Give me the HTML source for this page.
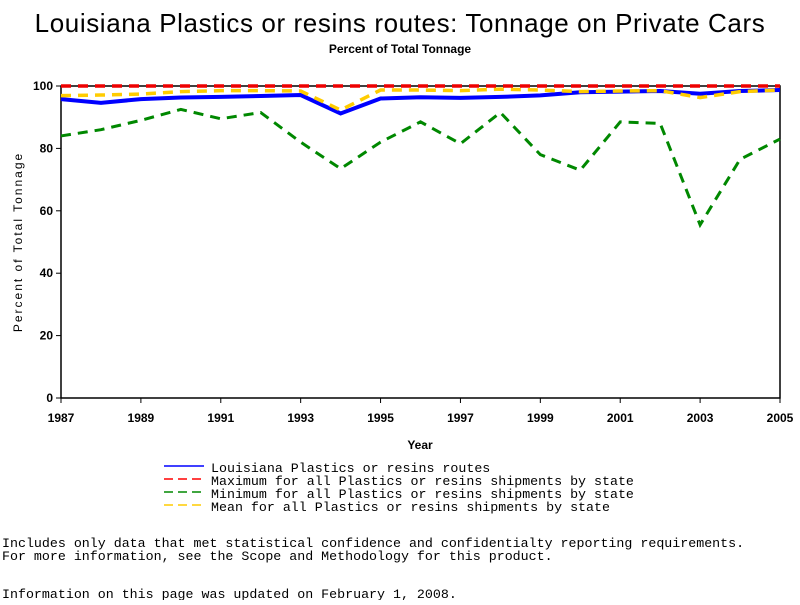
<!DOCTYPE html>
<html><head><meta charset="utf-8"><style>
body{margin:0;background:#fff;width:800px;height:600px;overflow:hidden}
svg text{font-family:"Liberation Sans",sans-serif}
svg text.mono{font-family:"Liberation Mono",monospace}
</style></head><body>
<svg width="800" height="600" id="svg">
<text x="400" y="32" font-size="26" letter-spacing="0.6" text-anchor="middle">Louisiana Plastics or resins routes: Tonnage on Private Cars</text>
<text x="400" y="53" font-size="12" font-weight="bold" text-anchor="middle">Percent of Total Tonnage</text>
<text x="22" y="242" font-size="12" text-anchor="middle" letter-spacing="2" transform="rotate(-90 22 242)">Percent of Total Tonnage</text>
<text x="420" y="449" font-size="12" font-weight="bold" text-anchor="middle">Year</text>
<g id="axes"></g>
<g id="series"></g>
<g font-size="13.3">
<line x1="164" y1="466" x2="204" y2="466" stroke="#00f" stroke-width="1.5"/>
<text class="mono" x="211" y="472">Louisiana Plastics or resins routes</text>
<line x1="164" y1="479" x2="204" y2="479" stroke="#f00" stroke-width="1.5" stroke-dasharray="9,5"/>
<text class="mono" x="211" y="485">Maximum for all Plastics or resins shipments by state</text>
<line x1="164" y1="492" x2="204" y2="492" stroke="#080" stroke-width="1.5" stroke-dasharray="9,5"/>
<text class="mono" x="211" y="498">Minimum for all Plastics or resins shipments by state</text>
<line x1="164" y1="505" x2="204" y2="505" stroke="#fc0" stroke-width="1.5" stroke-dasharray="9,5"/>
<text class="mono" x="211" y="511">Mean for all Plastics or resins shipments by state</text>
</g>
<g font-size="13.3">
<text class="mono" x="2" y="547">Includes only data that met statistical confidence and confidentialty reporting requirements.</text>
<text class="mono" x="2" y="560">For more information, see the Scope and Methodology for this product.</text>
<text class="mono" x="2" y="598">Information on this page was updated on February 1, 2008.</text>
</g>
</svg>
<script>
const years=[1987,1988,1989,1990,1991,1992,1993,1994,1995,1996,1997,1998,1999,2000,2001,2002,2003,2004,2005];
const louisiana=[95.8,94.6,95.8,96.3,96.5,96.8,97.1,91.2,96.0,96.4,96.2,96.5,97.0,98.0,98.2,98.4,97.5,98.4,98.7];
const maxVals=[100,100,100,100,100,100,100,100,100,100,100,100,100,100,100,100,100,100,100];
const minVals=[84,86,89,92.5,89.5,91.5,82,73.5,82,88.5,81.5,91.5,78,73,88.5,88,55.5,76.5,83];
const meanVals=[96.9,97.1,97.4,98.2,98.5,98.5,98.4,92.3,98.7,98.7,98.5,99.0,98.7,98.2,98.4,98.5,96.3,98.2,98.7];
const yTicks=[0,20,40,60,80,100];
const xTicks=[1987,1989,1991,1993,1995,1997,1999,2001,2003,2005];
const NS="http://www.w3.org/2000/svg";
const X0=61,X1=780,Y0=398,Y1=86;
const xs=y=>X0+(y-1987)/(2005-1987)*(X1-X0);
const ys=v=>Y0-v/100*(Y0-Y1);
function mk(t,a,p){const e=document.createElementNS(NS,t);for(const k in a)e.setAttribute(k,a[k]);p.appendChild(e);return e;}
const ax=document.getElementById('axes');
const box=mk('rect',{x:X0,y:Y1,width:X1-X0,height:Y0-Y1,fill:'none',stroke:'#000','stroke-width':1.5},ax);


yTicks.forEach(v=>{
 const l=mk('line',{x1:X0-5,x2:X0,y1:ys(v),y2:ys(v),stroke:'#000'},ax);
 
 
 const t=mk('text',{x:X0-8,y:ys(v)+4,'font-size':12,'font-weight':'bold','text-anchor':'end'},ax);
 t.textContent=v;
 
 
});
xTicks.forEach(v=>{
 const l=mk('line',{x1:xs(v),x2:xs(v),y1:Y0,y2:Y0+5,stroke:'#000'},ax);
 
 
 const t=mk('text',{x:xs(v),y:Y0+24,'font-size':12,'font-weight':'bold','text-anchor':'middle'},ax);
 t.textContent=v;
 
 
});
const sg=document.getElementById('series');
function line(vals,color,w,dash,name){
 const p=mk('polyline',{points:vals.map((v,i)=>xs(years[i])+','+ys(v)).join(' '),fill:'none',stroke:color,'stroke-width':w},sg);
 if(dash)p.setAttribute('stroke-dasharray',dash);
 
 
}
line(minVals,'#080',3,'10,7','min-line');
line(louisiana,'#00f',4,null,'louisiana-line');
line(meanVals,'#fc0',3.5,'10,7','mean-line');
line(maxVals,'#e00',3.5,'10,7','max-line');
</script>
</body></html>
